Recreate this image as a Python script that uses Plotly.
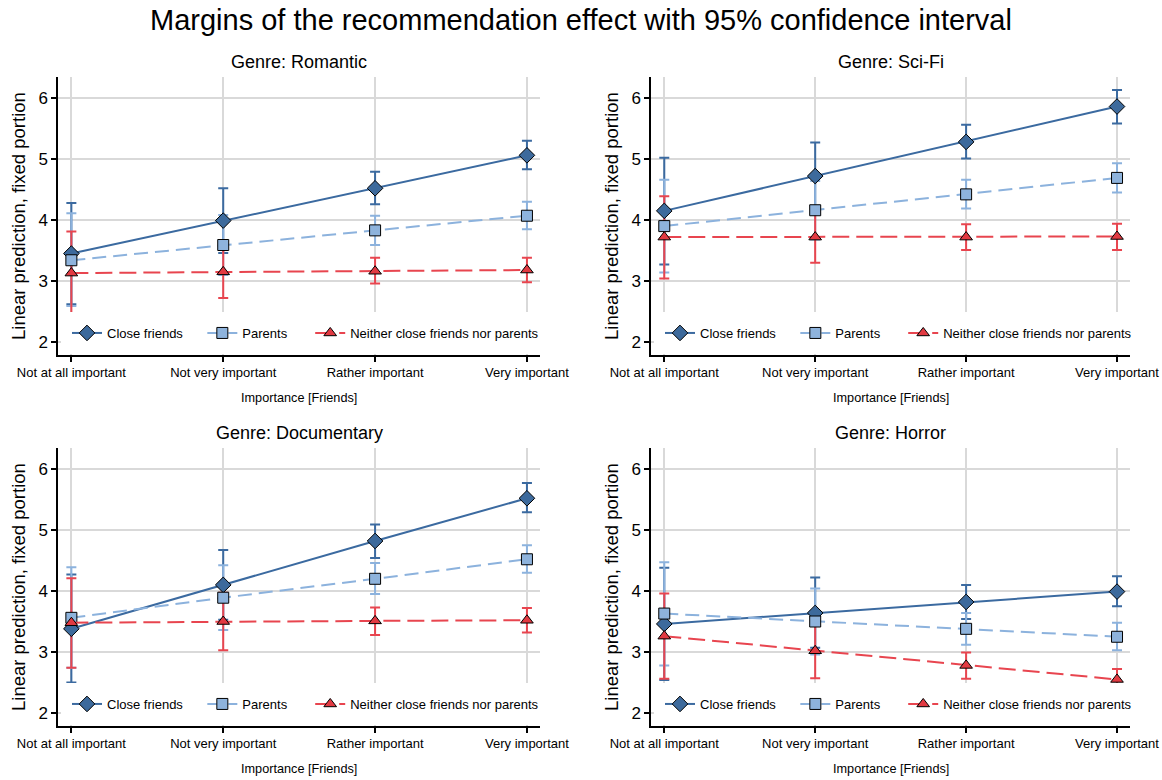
import plotly.graph_objects as go

categories = ["Not at all important", "Not very important", "Rather important", "Very important"]
genres = ["Romantic", "Sci-Fi", "Documentary", "Horror"]
series_names = ["Close friends", "Parents", "Neither close friends nor parents"]

# Romantic
romantic_close = [3.45, 3.99, 4.52, 5.06]
romantic_close_lo = [2.62, 3.46, 4.26, 4.83]
romantic_close_hi = [4.28, 4.52, 4.79, 5.30]
romantic_parents = [3.34, 3.59, 3.83, 4.07]
romantic_parents_lo = [2.59, 3.10, 3.59, 3.85]
romantic_parents_hi = [4.11, 4.08, 4.07, 4.30]
romantic_neither = [3.13, 3.15, 3.16, 3.18]
romantic_neither_lo = [2.46, 2.72, 2.96, 2.98]
romantic_neither_hi = [3.81, 3.57, 3.38, 3.38]

# Sci-Fi
scifi_close = [4.15, 4.72, 5.28, 5.86]
scifi_close_lo = [3.27, 4.17, 5.01, 5.58]
scifi_close_hi = [5.02, 5.27, 5.56, 6.13]
scifi_parents = [3.90, 4.16, 4.42, 4.69]
scifi_parents_lo = [3.14, 3.68, 4.19, 4.45]
scifi_parents_hi = [4.66, 4.64, 4.66, 4.93]
scifi_neither = [3.72, 3.72, 3.72, 3.73]
scifi_neither_lo = [3.04, 3.30, 3.51, 3.51]
scifi_neither_hi = [4.39, 4.14, 3.93, 3.94]

# Documentary
doc_close = [3.38, 4.10, 4.82, 5.52]
doc_close_lo = [2.50, 3.53, 4.54, 5.29]
doc_close_hi = [4.27, 4.67, 5.09, 5.77]
doc_parents = [3.56, 3.89, 4.20, 4.52]
doc_parents_lo = [2.74, 3.36, 3.95, 4.30]
doc_parents_hi = [4.39, 4.42, 4.46, 4.75]
doc_neither = [3.48, 3.50, 3.51, 3.52]
doc_neither_lo = [2.74, 3.03, 3.28, 3.32]
doc_neither_hi = [4.21, 3.97, 3.73, 3.72]

# Horror
horror_close = [3.46, 3.64, 3.82, 3.99]
horror_close_lo = [2.54, 3.07, 3.54, 3.75]
horror_close_hi = [4.38, 4.22, 4.10, 4.24]
horror_parents = [3.63, 3.50, 3.38, 3.25]
horror_parents_lo = [2.78, 2.96, 3.12, 3.03]
horror_parents_hi = [4.47, 4.04, 3.64, 3.48]
horror_neither = [3.26, 3.02, 2.78, 2.55]
horror_neither_lo = [2.56, 2.57, 2.56, 2.41]
horror_neither_hi = [3.96, 3.47, 2.99, 2.72]

panel_data = {
    "Romantic": [(romantic_close, romantic_close_lo, romantic_close_hi),
                 (romantic_parents, romantic_parents_lo, romantic_parents_hi),
                 (romantic_neither, romantic_neither_lo, romantic_neither_hi)],
    "Sci-Fi": [(scifi_close, scifi_close_lo, scifi_close_hi),
               (scifi_parents, scifi_parents_lo, scifi_parents_hi),
               (scifi_neither, scifi_neither_lo, scifi_neither_hi)],
    "Documentary": [(doc_close, doc_close_lo, doc_close_hi),
                    (doc_parents, doc_parents_lo, doc_parents_hi),
                    (doc_neither, doc_neither_lo, doc_neither_hi)],
    "Horror": [(horror_close, horror_close_lo, horror_close_hi),
               (horror_parents, horror_parents_lo, horror_parents_hi),
               (horror_neither, horror_neither_lo, horror_neither_hi)],
}

W, H = 1162, 780
FONT = "Arial, 'Liberation Sans', sans-serif"

line_colors = ["#3b6aa0", "#8cb2dd", "#e8454f"]
marker_colors = ["#3d6a9c", "#8eb3dc", "#e23a42"]
marker_symbols = ["diamond", "square", "triangle-up"]
marker_sizes = [12, 11, 11]
dashes = ["solid", "14px,7px", "17px,7px"]
legend_pad = ["\u00a0" * 4, "\u00a0" * 5, ""]

# panel pixel boxes (left, right, top, bottom)
boxes = [(58, 540, 77, 355), (651, 1130, 77, 355),
         (58, 540, 448, 726), (651, 1130, 448, 726)]

fig = go.Figure()

def px_x(p):
    return p / W

def px_y(p):
    return 1 - p / H

for i, g in enumerate(genres):
    n = i + 1
    xa = "x" if n == 1 else f"x{n}"
    ya = "y" if n == 1 else f"y{n}"
    leg = "legend" if n == 1 else f"legend{n}"
    # confidence intervals first (drawn beneath the connected lines)
    for s, (est, lo, hi) in enumerate(panel_data[g]):
        fig.add_trace(go.Scatter(
            x=categories, y=est, mode="markers",
            marker=dict(size=1, opacity=0),
            error_y=dict(type="data", symmetric=False,
                         array=[h - e for h, e in zip(hi, est)],
                         arrayminus=[e - l for e, l in zip(est, lo)],
                         color=line_colors[s], thickness=2, width=5),
            xaxis=xa, yaxis=ya, showlegend=False, hoverinfo="skip"))
    for s, (est, lo, hi) in enumerate(panel_data[g]):
        fig.add_trace(go.Scatter(
            x=categories, y=est, mode="lines+markers",
            name=series_names[s] + legend_pad[s],
            line=dict(color=line_colors[s], width=2, dash=dashes[s]),
            marker=dict(symbol=marker_symbols[s], size=marker_sizes[s],
                        color=marker_colors[s], line=dict(color="black", width=1)),
            xaxis=xa, yaxis=ya, legend=leg, showlegend=True))

layout = dict(
    width=W, height=H,
    margin=dict(l=0, r=0, t=0, b=0),
    paper_bgcolor="white", plot_bgcolor="white",
    font=dict(family=FONT, color="black"),
    showlegend=True,
)

axis_x_common = dict(
    type="category", range=[-0.088, 3.086], automargin=False,
    showgrid=True, gridcolor="#d9d9d9", gridwidth=2,
    showline=True, linecolor="black", linewidth=1.5,
    ticks="outside", ticklen=5, tickwidth=1.5, tickcolor="black",
    tickfont=dict(size=13, family=FONT, color="black"),
    zeroline=False,
)
axis_y_common = dict(
    range=[1.787, 6.344], tickvals=[2, 3, 4, 5, 6], automargin=False,
    showgrid=True, gridcolor="#d9d9d9", gridwidth=2,
    showline=True, linecolor="black", linewidth=1.5,
    ticks="outside", ticklen=5, tickwidth=1.5, tickcolor="black",
    tickfont=dict(size=17, family=FONT, color="black"),
    zeroline=False,
)

annotations = [dict(text="Margins of the recommendation effect with 95% confidence interval",
                    x=0.5, y=px_y(20), xref="paper", yref="paper",
                    xanchor="center", yanchor="middle", showarrow=False,
                    font=dict(size=29, family=FONT, color="black"))]

for i, g in enumerate(genres):
    n = i + 1
    l, r, t, b = boxes[i]
    xk = "xaxis" if n == 1 else f"xaxis{n}"
    yk = "yaxis" if n == 1 else f"yaxis{n}"
    layout[xk] = dict(axis_x_common, domain=[px_x(l), px_x(r)],
                      anchor="y" if n == 1 else f"y{n}")
    layout[yk] = dict(axis_y_common, domain=[px_y(b), px_y(t)],
                      anchor="x" if n == 1 else f"x{n}")
    lk = "legend" if n == 1 else f"legend{n}"
    layout[lk] = dict(orientation="h", x=px_x(l + 3), y=px_y(b - 22),
                      xanchor="left", yanchor="middle",
                      bgcolor="white", bordercolor="white", borderwidth=6,
                      font=dict(size=13, family=FONT, color="black"),
                      itemwidth=30)
    annotations.append(dict(text=f"Genre: {g}", x=px_x((l + r) / 2), y=px_y(t - 15),
                            xref="paper", yref="paper", xanchor="center", yanchor="middle",
                            showarrow=False, font=dict(size=18, family=FONT, color="black")))
    annotations.append(dict(text="Linear prediction, fixed portion", textangle=-90,
                            x=px_x(l - 40), y=px_y((t + b) / 2),
                            xref="paper", yref="paper", xanchor="center", yanchor="middle",
                            showarrow=False, font=dict(size=18.5, family=FONT, color="black")))
    annotations.append(dict(text="Importance [Friends]",
                            x=px_x((l + r) / 2), y=px_y(b + 43),
                            xref="paper", yref="paper", xanchor="center", yanchor="middle",
                            showarrow=False, font=dict(size=12.7, family=FONT, color="black")))

layout["annotations"] = annotations
fig.update_layout(**layout)

fig.write_html("out.html")
